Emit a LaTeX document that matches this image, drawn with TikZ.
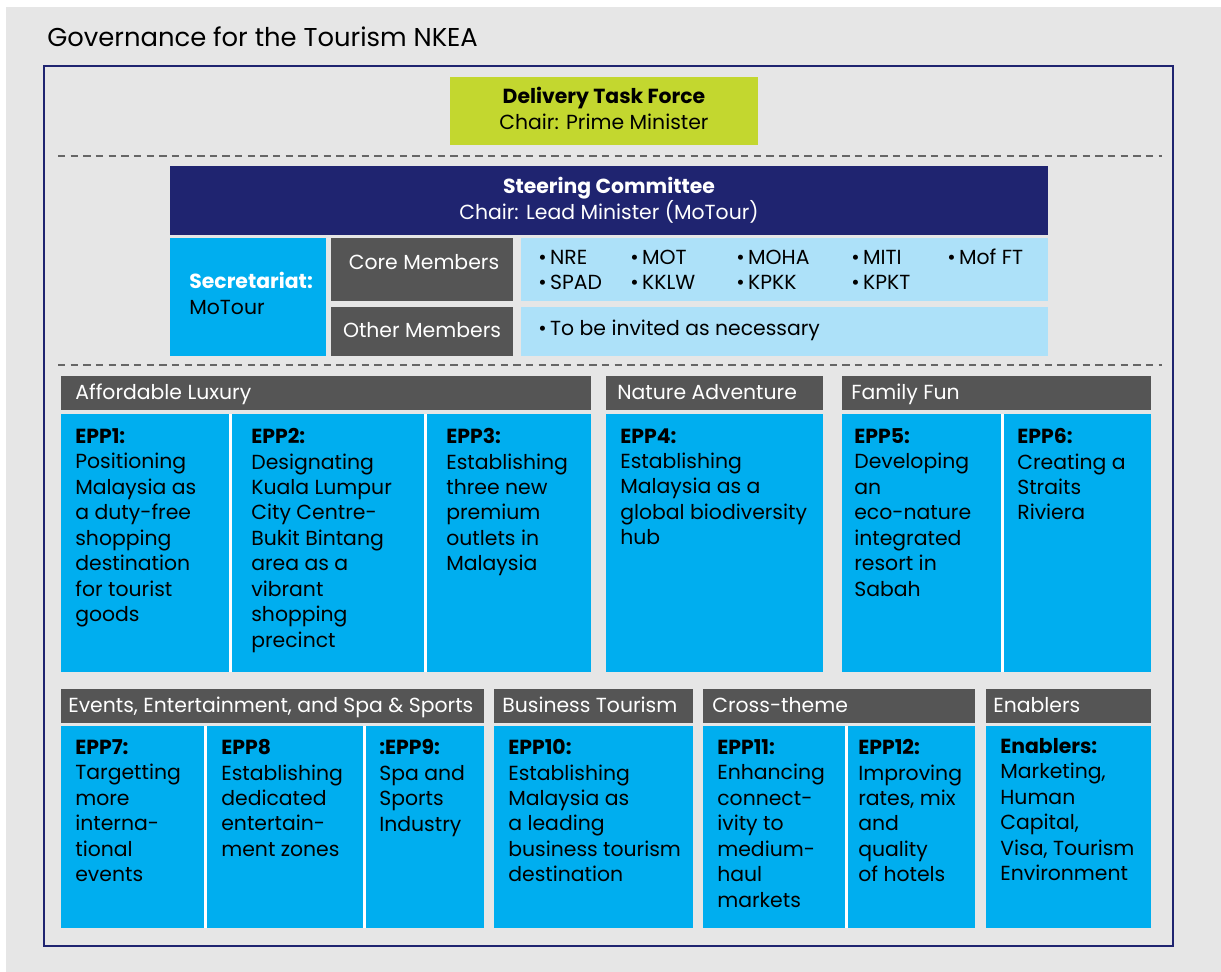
\documentclass[tikz,border=0pt]{standalone}
\usepackage{fontspec}
\setmainfont{Poppins}
\definecolor{pagegrey}{HTML}{E6E6E6}
\definecolor{navy}{HTML}{1F2470}
\definecolor{eppblue}{HTML}{00AEEF}
\definecolor{paleblue}{HTML}{ADE1F9}
\definecolor{headgrey}{HTML}{555555}
\definecolor{lime}{HTML}{C3D72F}
\newcommand{\bt}{\textbullet\,}
% theme header bar: name, left, top, right, text x, label
\newcommand{\themebar}[6]{%
  \fill[headgrey] (#2,#3) rectangle (#4,#3+34);
  \node[headtext] (#1) at (#5,#3+24) {#6};}
% blue body under a header: left, top, right, bottom
\newcommand{\eppbody}[4]{\fill[eppblue] (#1,#2) rectangle (#3,#4);}
\newcommand{\divider}[3]{\draw[white,line width=0.06cm] (#1,#2) -- (#1,#3);}

\begin{document}
\begin{tikzpicture}[x=0.02cm,y=-0.02cm,
  every node/.style={inner sep=0pt,font=\fontsize{11.6}{14.5}\selectfont},
  headtext/.style={anchor=base west,text=white},
  epptext/.style={anchor=north west,align=left},
  basetext/.style={anchor=base}]
\fill[white] (0,0) rectangle (1221,972);
\fill[pagegrey] (6,7) rectangle (1221,972);

\node[anchor=base west,font=\fontsize{14.7}{18}\selectfont] (title) at (47,47) {Governance for the Tourism NKEA};
\draw[navy,line width=0.045cm] (44,66) rectangle (1173,946);

% delivery task force
\fill[lime] (450,77) rectangle (758,145);
\node[basetext] (dtf) at (604,104) {\textbf{Delivery Task Force}};
\node[basetext] (dtfchair) at (604,130) {Chair: Prime Minister};
\draw[black!60,line width=0.04cm,dash pattern=on 4.2pt off 3pt] (58,156) -- (1162,156);

% steering committee
\fill[navy] (170,166) rectangle (1048,235);
\node[basetext,text=white] (sc) at (609,194) {\textbf{Steering Committee}};
\node[basetext,text=white] (scchair) at (609,220) {Chair: Lead Minister (MoTour)};
\fill[eppblue] (170,238) rectangle (326,356);
\node[anchor=base west,text=white] (sec) at (189,289) {\textbf{Secretariat:}};
\node[anchor=base west] (secmin) at (189,315) {MoTour};
\fill[headgrey] (331,238) rectangle (513,301);
\fill[headgrey] (331,307) rectangle (513,356);
\node[basetext,text=white] (core) at (424,270) {Core Members};
\node[basetext,text=white] (other) at (422,338) {Other Members};
\fill[paleblue] (521,238) rectangle (1048,301);
\fill[paleblue] (521,307) rectangle (1048,356);
\node[anchor=base west] (nre) at (538,265) {\bt NRE};
\node[anchor=base west] (mot) at (630,265) {\bt MOT};
\node[anchor=base west] (moha) at (736,265) {\bt MOHA};
\node[anchor=base west] (miti) at (851,265) {\bt MITI};
\node[anchor=base west] (mof) at (947,265) {\bt Mof FT};
\node[anchor=base west] (spad) at (538,290) {\bt SPAD};
\node[anchor=base west] (kklw) at (630,290) {\bt KKLW};
\node[anchor=base west] (kpkk) at (736,290) {\bt KPKK};
\node[anchor=base west] (kpkt) at (851,290) {\bt KPKT};
\node[anchor=base west] (invite) at (538,336) {\bt To be invited as necessary};
\draw[black!60,line width=0.04cm,dash pattern=on 4.2pt off 3pt] (58,365) -- (1162,365);

% first row of themes
\themebar{lux}{61}{376}{591}{75}{Affordable Luxury}
\themebar{nat}{606}{376}{823}{617}{Nature Adventure}
\themebar{fam}{842}{376}{1151}{851}{Family Fun}
\eppbody{61}{414}{591}{672}
\eppbody{606}{414}{823}{672}
\eppbody{842}{414}{1151}{672}
\divider{230}{414}{672}
\divider{425}{414}{672}
\divider{1002}{414}{672}
\node[epptext] (epp1) at (75,428) {\textbf{EPP1:}\\Positioning\\Malaysia as\\a duty-free\\shopping\\destination\\for tourist\\goods};
\node[epptext] (epp2) at (251,428) {\textbf{EPP2:}\\Designating\\Kuala Lumpur\\City Centre-\\Bukit Bintang\\area as a\\vibrant\\shopping\\precinct};
\node[epptext] (epp3) at (446,428) {\textbf{EPP3:}\\Establishing\\three new\\premium\\outlets in\\Malaysia};
\node[epptext] (epp4) at (620,428) {\textbf{EPP4:}\\Establishing\\Malaysia as a\\global biodiversity\\hub};
\node[epptext] (epp5) at (854,428) {\textbf{EPP5:}\\Developing\\an\\eco-nature\\integrated\\resort in\\Sabah};
\node[epptext] (epp6) at (1017,428) {\textbf{EPP6:}\\Creating a\\Straits\\Riviera};

% second row of themes
\themebar{evt}{61}{689}{484}{68}{Events, Entertainment, and Spa \& Sports}
\themebar{bus}{494}{689}{693}{502}{Business Tourism}
\themebar{crs}{703}{689}{975}{712}{Cross-theme}
\themebar{enb}{986}{689}{1151}{993}{Enablers}
\eppbody{61}{726}{484}{928}
\eppbody{494}{726}{693}{928}
\eppbody{703}{726}{975}{928}
\eppbody{986}{726}{1151}{928}
\divider{205}{726}{928}
\divider{364}{726}{928}
\divider{846}{726}{928}
\node[epptext] (epp7) at (75,739) {\textbf{EPP7:}\\Targetting\\more\\interna-\\tional\\events};
\node[epptext] (epp8) at (221,739) {\textbf{EPP8}\\Establishing\\dedicated\\entertain-\\ment zones};
\node[epptext] (epp9) at (379,739) {\textbf{:EPP9:}\\Spa and\\Sports\\Industry};
\node[epptext] (epp10) at (508,739) {\textbf{EPP10:}\\Establishing\\Malaysia as\\a leading\\business tourism\\destination};
\node[epptext] (epp11) at (717,739) {\textbf{EPP11:}\\Enhancing\\connect-\\ivity to\\medium-\\haul\\markets};
\node[epptext] (epp12) at (858,739) {\textbf{EPP12:}\\Improving\\rates, mix\\and\\quality\\of hotels};
\node[epptext] (enab) at (1000,738) {\textbf{Enablers:}\\Marketing,\\Human\\Capital,\\Visa, Tourism\\Environment};
\end{tikzpicture}
\end{document}
